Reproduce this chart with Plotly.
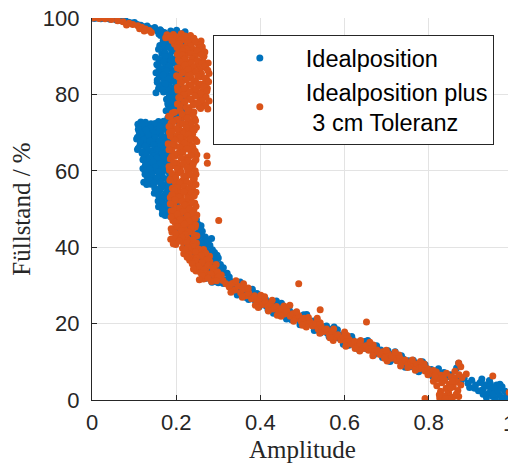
import plotly.graph_objects as go

# ---- data: (Amplitude, Füllstand %) ----
blue_points = [
    # top arc
    (0.005,99.9),(0.012,100),(0.021,99.8),(0.028,100),(0.036,99.9),(0.043,99.7),(0.051,99.8),(0.058,99.5),
    (0.066,99.4),(0.072,99.2),(0.079,99.3),(0.087,98.9),(0.094,98.7),(0.101,98.8),(0.108,98.3),(0.116,98.1),
    (0.123,97.7),(0.131,97.9),(0.137,97.3),(0.144,97.0),(0.149,97.5),(0.156,96.6),(0.162,96.9),
    # 90-97
    (0.201,96.8),(0.165,96.5),(0.221,96.4),(0.186,96.0),(0.159,95.8),(0.208,95.3),(0.177,95.1),(0.226,94.6),
    (0.194,94.5),(0.169,94.0),(0.213,93.7),(0.182,93.5),(0.223,92.9),(0.161,92.8),(0.199,92.3),(0.173,92.0),
    (0.205,91.6),(0.189,91.5),(0.229,90.9),(0.166,90.7),(0.217,90.3),(0.179,90.0),
    (0.187,96.6),(0.172,96.2),(0.213,95.9),(0.196,95.5),(0.163,95.4),(0.219,95.0),(0.184,94.8),(0.205,94.3),
    (0.176,94.1),(0.228,93.9),(0.191,93.2),(0.168,93.0),(0.210,92.6),(0.183,92.4),(0.226,92.2),(0.158,91.8),
    (0.196,91.3),(0.214,91.1),(0.174,90.8),(0.203,90.4),(0.185,90.2),
    # 80-90
    (0.151,89.7),(0.198,89.4),(0.182,89.0),(0.164,88.8),(0.210,88.3),(0.190,88.1),(0.175,87.6),(0.157,87.5),
    (0.206,87.0),(0.186,86.6),(0.168,86.5),(0.195,86.0),(0.152,85.7),(0.202,85.5),(0.178,85.1),(0.213,84.8),
    (0.160,84.6),(0.192,84.2),(0.171,83.9),(0.209,83.6),(0.155,83.2),(0.184,83.0),(0.166,82.5),(0.201,82.3),
    (0.179,81.9),(0.158,81.5),(0.212,81.3),(0.189,80.8),(0.170,80.6),(0.205,80.2),
    (0.173,89.9),(0.204,89.6),(0.159,89.2),(0.188,88.9),(0.170,88.5),(0.200,88.0),(0.154,87.8),(0.183,87.3),
    (0.213,87.2),(0.164,86.8),(0.198,86.3),(0.177,86.2),(0.158,85.9),(0.191,85.3),(0.169,85.0),(0.205,84.4),
    (0.181,84.0),(0.155,83.8),(0.197,83.3),(0.174,82.8),(0.160,82.0),(0.193,81.7),(0.209,81.9),(0.168,81.2),
    (0.182,80.9),(0.152,80.4),(0.196,80.5),
    # 73-80
    (0.184,79.8),(0.209,79.4),(0.197,79.0),(0.177,78.7),(0.216,78.3),(0.191,77.9),(0.203,77.5),(0.181,77.2),
    (0.214,76.8),(0.193,76.4),(0.207,76.1),(0.176,75.7),(0.200,75.3),(0.187,75.0),(0.219,74.5),(0.193,74.2),
    (0.180,73.8),(0.211,73.5),(0.198,73.1),
    (0.201,79.6),(0.186,79.2),(0.211,78.8),(0.193,78.1),(0.180,77.6),(0.206,77.1),(0.196,76.6),(0.185,76.0),
    (0.213,75.6),(0.192,75.1),(0.204,74.6),(0.185,74.0),(0.200,73.6),(0.190,73.2),(0.170,73.0),
    # 64-73
    (0.158,72.9),(0.116,72.8),(0.180,72.5),(0.140,72.3),(0.109,72.2),(0.165,71.9),(0.130,71.6),(0.186,71.5),
    (0.149,71.2),(0.120,71.1),(0.170,70.8),(0.136,70.5),(0.182,70.4),(0.112,70.2),(0.154,69.9),(0.125,69.7),
    (0.162,69.6),(0.143,69.3),(0.189,69.0),(0.118,68.9),(0.176,68.7),(0.132,68.4),(0.106,68.3),(0.168,68.0),
    (0.147,67.7),(0.123,67.6),(0.184,67.4),(0.157,67.1),(0.137,66.9),(0.114,66.7),(0.178,66.5),(0.152,66.2),
    (0.128,66.1),(0.164,65.8),(0.108,65.6),(0.173,65.3),(0.142,65.1),(0.187,64.9),(0.119,64.6),(0.159,64.3),
    (0.127,72.7),(0.171,72.6),(0.150,72.4),(0.119,72.0),(0.161,71.7),(0.139,71.3),(0.110,70.9),(0.176,70.9),
    (0.128,70.7),(0.159,70.3),(0.145,70.0),(0.114,69.8),(0.181,69.7),(0.134,69.4),(0.167,69.1),(0.108,68.8),
    (0.150,68.6),(0.123,68.1),(0.185,68.1),(0.160,67.9),(0.138,67.8),(0.115,67.3),(0.171,67.2),(0.146,66.8),
    (0.126,66.4),(0.163,66.4),(0.188,66.0),(0.110,65.9),(0.154,65.5),(0.133,65.4),(0.179,65.2),(0.120,64.9),
    (0.166,64.5),(0.145,64.5),(0.129,64.2),
    # 56-64
    (0.146,63.9),(0.179,63.6),(0.124,63.5),(0.161,63.2),(0.135,62.9),(0.184,62.8),(0.152,62.5),(0.129,62.2),
    (0.170,62.0),(0.141,61.8),(0.189,61.5),(0.156,61.3),(0.132,61.0),(0.166,60.8),(0.121,60.6),(0.175,60.3),
    (0.148,60.0),(0.182,59.8),(0.138,59.6),(0.164,59.3),(0.126,59.1),(0.159,58.8),(0.186,58.6),(0.143,58.3),
    (0.169,58.0),(0.133,57.8),(0.153,57.5),(0.180,57.3),(0.123,57.0),(0.163,56.7),(0.140,56.5),(0.173,56.2),
    (0.168,63.8),(0.137,63.4),(0.154,63.3),(0.121,62.9),(0.176,62.6),(0.145,62.3),(0.162,61.9),(0.127,61.6),
    (0.182,61.2),(0.150,60.9),(0.137,60.5),(0.171,60.1),(0.126,59.9),(0.158,59.7),(0.184,59.4),(0.142,59.0),
    (0.167,58.7),(0.131,58.5),(0.154,58.2),(0.179,57.9),(0.137,57.6),(0.162,57.1),(0.147,56.8),(0.130,56.4),
    (0.186,56.4),
    # 48-56
    (0.168,55.8),(0.149,55.5),(0.189,55.1),(0.161,54.8),(0.197,54.5),(0.148,54.1),(0.184,53.8),(0.171,53.4),
    (0.160,53.1),(0.192,52.8),(0.183,52.4),(0.157,52.1),(0.203,51.7),(0.174,51.4),(0.190,51.1),(0.166,50.7),
    (0.202,50.4),(0.185,50.0),(0.175,49.7),(0.215,49.4),(0.192,49.0),(0.167,48.7),(0.203,48.4),(0.186,48.1),
    (0.180,55.6),(0.160,55.2),(0.152,54.9),(0.176,54.3),(0.191,54.0),(0.158,53.6),(0.180,53.2),(0.168,52.7),
    (0.196,52.5),(0.164,51.8),(0.185,51.5),(0.172,50.9),(0.158,50.6),(0.195,50.1),(0.167,49.8),(0.205,49.6),
    (0.180,49.2),(0.196,48.6),(0.174,48.3),
    # 40-48
    (0.231,47.8),(0.205,47.5),(0.248,47.2),(0.221,46.8),(0.200,46.5),(0.242,46.2),(0.218,45.9),(0.259,45.6),
    (0.236,45.2),(0.212,44.9),(0.254,44.6),(0.229,44.3),(0.209,44.0),(0.250,43.6),(0.240,43.3),(0.227,43.0),
    (0.269,42.7),(0.251,42.4),(0.223,42.0),(0.265,41.7),(0.240,41.4),(0.272,41.1),(0.250,40.8),(0.234,40.4),
    (0.267,40.2),(0.243,39.9),(0.284,42.3),(0.291,38.6),
    (0.217,47.9),(0.238,47.3),(0.201,46.9),(0.230,46.6),(0.252,46.0),(0.210,45.8),(0.243,45.3),(0.225,45.0),
    (0.203,44.5),(0.262,44.2),(0.237,43.8),(0.217,43.4),(0.256,43.1),(0.233,42.8),(0.210,42.5),(0.246,42.1),
    (0.276,41.9),(0.228,41.5),(0.258,41.0),(0.238,40.6),(0.219,40.3),(0.280,40.5),
    # 30-40
    (0.257,39.6),(0.286,39.3),(0.239,38.9),(0.273,38.6),(0.253,38.3),(0.297,37.9),(0.270,37.6),(0.244,37.2),
    (0.289,36.9),(0.266,36.6),(0.281,36.2),(0.256,35.9),(0.305,35.5),(0.264,35.2),(0.294,34.9),(0.254,34.5),
    (0.305,34.2),(0.285,33.8),(0.277,33.5),(0.321,33.2),(0.268,32.8),(0.307,32.5),(0.298,32.1),(0.269,31.8),
    (0.319,31.5),(0.293,31.1),(0.285,30.8),(0.312,30.5),
    (0.246,39.8),(0.270,39.4),(0.233,39.1),(0.262,38.5),(0.283,38.1),(0.246,37.8),(0.263,37.3),(0.300,37.2),
    (0.252,36.8),(0.276,36.4),(0.294,36.0),(0.247,35.6),(0.283,35.3),(0.265,34.8),(0.312,34.6),(0.277,34.3),
    (0.261,33.9),(0.297,33.6),(0.310,33.3),(0.276,32.9),(0.292,32.3),(0.326,32.2),(0.280,31.9),(0.305,31.6),
    (0.330,31.0),(0.300,30.7),
    # lower curve
    (0.334,29.8),(0.341,30.6),(0.348,28.9),(0.356,29.7),(0.362,27.9),(0.369,28.7),(0.377,27.1),(0.383,27.8),
    (0.388,26.0),(0.394,26.8),(0.402,25.2),(0.407,26.2),(0.413,24.7),(0.421,25.4),(0.428,24.0),(0.434,25.0),
    (0.441,23.4),(0.447,24.4),(0.453,22.9),(0.459,23.7),(0.466,22.3),(0.472,23.0),(0.479,21.6),(0.486,22.5),
    (0.492,21.0),(0.498,21.8),(0.506,20.4),(0.512,21.2),(0.519,19.8),(0.526,20.7),(0.532,19.1),(0.538,19.8),
    (0.546,18.4),(0.552,19.2),(0.558,17.6),(0.566,18.5),(0.572,17.0),(0.579,17.7),(0.586,16.2),(0.593,17.0),
    (0.598,15.5),(0.606,16.3),(0.612,15.0),(0.619,15.8),(0.626,14.5),(0.633,15.2),(0.639,14.0),(0.646,14.8),
    (0.652,13.4),(0.659,14.1),(0.666,12.9),(0.672,13.6),(0.679,12.4),(0.686,13.1),(0.692,11.8),(0.699,12.4),
    (0.706,11.2),(0.712,11.9),(0.719,10.7),(0.726,11.4),(0.732,10.2),(0.739,10.8),(0.746,9.7),(0.752,10.3),
    (0.759,9.1),(0.766,9.8),(0.772,8.6),(0.779,9.1),(0.786,8.0),(0.792,8.6),(0.799,7.5),(0.806,8.0),
    (0.813,7.0),(0.821,7.5),(0.828,6.6),(0.836,7.2),(0.843,6.1),(0.851,6.6),(0.858,5.8),(0.866,5.3),
    (0.352,30.9),(0.381,29.0),(0.412,26.4),(0.438,25.9),(0.468,24.2),(0.503,22.3),(0.531,20.6),(0.557,19.4),
    (0.583,18.4),(0.617,16.6),(0.648,15.3),(0.676,14.2),(0.703,12.9),(0.735,11.6),(0.763,10.4),(0.791,9.3),
    (0.823,8.2),
    (0.366,26.8),(0.397,24.4),(0.431,22.7),(0.462,21.2),(0.494,19.7),(0.528,18.2),(0.563,16.6),(0.597,14.6),
    (0.634,13.2),(0.669,11.8),(0.708,10.1),(0.744,8.6),(0.776,7.4),(0.809,6.2),
    (0.345,27.5),(0.372,26.3),(0.392,27.9),(0.418,23.6),(0.450,25.3),(0.474,21.0),(0.510,22.4),(0.543,17.6),
    (0.575,19.1),(0.610,14.3),(0.655,15.6),(0.690,11.1),(0.720,12.6),(0.755,8.7),(0.785,10.0),
    (0.871,9.6),(0.866,8.4),
    # cluster near empty
    (0.876,4.9),(0.884,5.7),(0.893,4.4),(0.902,5.2),(0.911,3.9),(0.897,3.3),(0.922,4.6),(0.928,2.7),
    (0.936,3.6),(0.941,1.7),(0.947,2.9),(0.952,0.9),(0.958,2.1),(0.961,3.9),(0.968,1.3),(0.972,3.0),
    (0.978,0.5),(0.981,2.3),(0.946,4.3),(0.958,0.3),(0.937,0.6),(0.929,1.5),(0.918,2.4),(0.969,4.1),
    (0.953,1.6),(0.963,2.6),(0.974,3.5),(0.985,1.4),(0.909,3.1),(0.944,5.1),(0.932,4.0),(0.955,3.3),
    (0.973,0.2),(0.989,0.6),(0.926,5.5),
]

orange_points = [
    # top arc
    (0.003,100),(0.017,99.9),(0.031,99.8),(0.046,99.6),(0.061,99.3),(0.074,99.0),(0.088,98.6),(0.097,98.3),
    (0.109,98.0),(0.118,97.6),(0.127,97.1),(0.136,96.7),(0.082,98.2),(0.113,97.2),(0.141,96.2),(0.124,96.6),
    # 90-96
    (0.212,95.9),(0.178,95.6),(0.234,95.4),(0.199,95.1),(0.175,94.8),(0.233,94.6),(0.221,94.3),(0.259,94.0),
    (0.204,93.7),(0.239,93.5),(0.196,93.2),(0.253,92.9),(0.224,92.7),(0.262,92.4),(0.217,92.1),(0.240,91.8),
    (0.207,91.6),(0.264,91.3),(0.226,91.0),(0.255,90.8),(0.203,90.5),(0.245,90.2),(0.266,90.0),(0.222,89.7),
    (0.193,95.7),(0.221,95.3),(0.186,94.9),(0.242,94.7),(0.212,94.4),(0.190,94.1),(0.246,93.9),(0.228,93.6),
    (0.208,93.3),(0.258,93.0),(0.234,92.6),(0.202,92.3),(0.255,92.2),(0.225,91.9),(0.249,91.5),(0.215,91.4),
    (0.268,91.1),(0.234,90.7),(0.215,90.3),(0.260,90.4),(0.244,89.9),
    # 76-90
    (0.238,89.4),(0.205,89.1),(0.263,88.8),(0.225,88.5),(0.276,88.2),(0.214,87.9),(0.250,87.6),(0.232,87.3),
    (0.270,87.0),(0.208,86.7),(0.256,86.4),(0.221,86.1),(0.242,85.8),(0.278,85.5),(0.228,85.2),(0.201,84.9),
    (0.259,84.6),(0.235,84.3),(0.272,84.0),(0.217,83.7),(0.246,83.4),(0.210,83.1),(0.266,82.8),(0.230,82.5),
    (0.253,82.2),(0.203,81.9),(0.274,81.6),(0.223,81.3),(0.241,81.0),(0.262,80.7),(0.213,80.4),(0.248,80.1),
    (0.268,79.8),(0.226,79.5),(0.206,79.2),(0.257,78.9),(0.236,78.6),(0.278,78.3),(0.218,78.0),(0.245,77.7),
    (0.265,77.4),(0.209,77.1),(0.254,76.8),(0.231,76.5),(0.275,76.2),
    (0.219,89.2),(0.250,88.9),(0.208,88.6),(0.236,88.3),(0.261,88.0),(0.221,87.7),(0.268,87.4),(0.241,87.1),
    (0.203,86.9),(0.229,86.5),(0.275,86.3),(0.247,85.9),(0.214,85.6),(0.260,85.4),(0.233,85.0),(0.251,84.7),
    (0.207,84.4),(0.269,84.2),(0.224,83.9),(0.242,83.5),(0.277,83.3),(0.212,83.0),(0.256,82.7),(0.236,82.3),
    (0.266,82.0),(0.219,81.7),(0.248,81.4),(0.204,81.1),(0.273,80.9),(0.232,80.6),(0.258,80.2),(0.218,79.9),
    (0.244,79.6),(0.271,79.3),(0.209,79.0),(0.233,78.7),(0.262,78.4),(0.221,78.1),(0.250,77.8),(0.203,77.5),
    (0.240,77.2),(0.270,77.0),(0.224,76.6),(0.258,76.3),
    # 56-76
    (0.209,75.8),(0.242,75.4),(0.191,75.1),(0.227,74.7),(0.182,74.3),(0.218,74.0),(0.244,73.6),(0.200,73.3),
    (0.233,72.9),(0.188,72.5),(0.222,72.2),(0.207,71.8),(0.248,71.4),(0.195,71.1),(0.230,70.7),(0.213,70.4),
    (0.184,70.0),(0.239,69.6),(0.203,69.3),(0.221,68.9),(0.193,68.5),(0.245,68.2),(0.212,67.8),(0.230,67.5),
    (0.181,67.1),(0.224,66.7),(0.199,66.4),(0.240,66.0),(0.215,65.6),(0.189,65.3),(0.235,64.9),(0.205,64.6),
    (0.249,64.2),(0.197,63.8),(0.226,63.5),(0.186,63.1),(0.219,62.7),(0.243,62.4),(0.202,62.0),(0.232,61.7),
    (0.192,61.3),(0.210,60.9),(0.237,60.6),(0.184,60.2),(0.228,59.8),(0.205,59.5),(0.247,59.1),(0.195,58.8),
    (0.223,58.4),(0.187,58.0),(0.241,57.7),(0.214,57.3),(0.198,56.9),(0.234,56.6),(0.207,56.2),
    (0.229,75.6),(0.196,75.3),(0.214,74.9),(0.240,74.5),(0.186,74.2),(0.226,73.8),(0.205,73.4),(0.246,73.1),
    (0.192,72.7),(0.215,72.4),(0.236,72.0),(0.183,71.6),(0.224,71.3),(0.201,70.9),(0.243,70.6),(0.190,70.2),
    (0.218,69.8),(0.229,69.5),(0.186,69.1),(0.210,68.7),(0.234,68.4),(0.197,68.0),(0.249,67.7),(0.219,67.3),
    (0.190,66.9),(0.238,66.6),(0.208,66.2),(0.226,65.8),(0.183,65.5),(0.245,65.1),(0.216,64.8),(0.196,64.4),
    (0.235,64.0),(0.189,63.7),(0.212,63.3),(0.247,62.9),(0.228,62.6),(0.194,62.2),(0.217,61.9),(0.240,61.5),
    (0.183,61.1),(0.226,60.8),(0.203,60.4),(0.245,60.0),(0.212,59.7),(0.190,59.3),(0.233,58.9),(0.218,58.6),
    (0.199,58.2),(0.243,57.9),(0.185,57.5),(0.225,57.1),(0.208,56.8),(0.247,56.4),
    (0.273,63.9),(0.274,62.0),
    # 40-56
    (0.219,55.8),(0.191,55.4),(0.239,55.1),(0.207,54.7),(0.247,54.4),(0.197,54.0),(0.227,53.7),(0.212,53.3),
    (0.186,53.0),(0.235,52.6),(0.203,52.3),(0.223,51.9),(0.244,51.6),(0.194,51.2),(0.231,50.9),(0.216,50.5),
    (0.201,50.2),(0.242,49.8),(0.188,49.5),(0.225,49.1),(0.210,48.8),(0.249,48.4),(0.198,48.1),(0.232,47.7),
    (0.218,47.4),(0.192,47.0),(0.240,46.7),(0.205,46.3),(0.229,46.0),(0.214,45.6),(0.245,45.3),(0.195,44.9),
    (0.221,44.6),(0.236,44.2),(0.190,43.9),(0.208,43.5),(0.243,43.2),(0.202,42.8),(0.225,42.5),(0.187,42.1),
    (0.234,41.8),(0.215,41.4),(0.248,41.1),(0.199,40.7),(0.229,40.4),
    (0.202,55.6),(0.229,55.3),(0.195,54.9),(0.218,54.5),(0.236,54.2),(0.190,53.8),(0.243,53.5),(0.206,53.1),
    (0.227,52.8),(0.197,52.4),(0.214,52.0),(0.238,51.7),(0.186,51.4),(0.221,51.0),(0.247,50.7),(0.208,50.3),
    (0.231,50.0),(0.193,49.6),(0.216,49.3),(0.239,48.9),(0.203,48.6),(0.226,48.2),(0.188,47.9),(0.245,47.5),
    (0.209,47.2),(0.230,46.8),(0.197,46.5),(0.219,46.1),(0.246,45.8),(0.203,45.4),(0.236,45.1),(0.188,44.8),
    (0.212,44.4),(0.230,44.0),(0.198,43.7),(0.222,43.3),(0.249,43.0),(0.213,42.6),(0.195,42.3),(0.240,41.9),
    (0.207,41.6),(0.226,41.2),(0.193,40.9),(0.239,40.6),
    (0.301,47.0),
    # 31-40
    (0.242,40.1),(0.215,39.7),(0.265,39.4),(0.235,39.0),(0.259,38.7),(0.218,38.3),(0.249,38.0),(0.279,37.6),
    (0.237,37.3),(0.265,36.9),(0.232,36.6),(0.280,36.2),(0.257,35.9),(0.295,35.5),(0.246,35.2),(0.272,34.8),
    (0.259,34.5),(0.289,34.1),(0.247,33.8),(0.288,33.4),(0.275,33.1),(0.307,32.7),(0.269,32.4),(0.292,32.0),
    (0.265,31.7),(0.311,31.3),(0.284,31.0),
    (0.228,39.9),(0.253,39.5),(0.222,39.2),(0.246,38.8),(0.270,38.5),(0.230,38.1),(0.260,37.8),(0.226,37.4),
    (0.248,37.1),(0.273,36.7),(0.245,36.4),(0.262,36.0),(0.238,35.7),(0.276,35.3),(0.253,35.0),(0.287,34.6),
    (0.241,34.3),(0.266,34.0),(0.298,33.6),(0.258,33.3),(0.282,32.9),(0.262,32.6),(0.300,32.2),(0.276,31.9),
    (0.255,31.5),(0.296,31.2),
    # lower curve
    (0.318,30.4),(0.326,29.6),(0.333,30.5),(0.339,28.8),(0.347,29.8),(0.353,28.1),(0.359,29.0),(0.366,27.3),
    (0.372,28.1),(0.379,26.5),(0.386,27.3),(0.392,25.8),(0.398,26.5),(0.405,25.0),(0.412,25.8),(0.418,24.4),
    (0.424,25.1),(0.431,23.8),(0.438,24.5),(0.444,23.1),(0.451,23.9),(0.457,22.5),(0.463,23.3),(0.471,21.9),
    (0.477,22.6),(0.483,21.3),(0.491,22.1),(0.497,20.6),(0.504,21.4),(0.511,20.0),(0.517,20.7),(0.524,19.4),
    (0.531,20.1),(0.537,18.6),(0.544,19.4),(0.551,17.9),(0.557,18.6),(0.564,17.1),(0.571,17.9),(0.577,16.4),
    (0.584,17.1),(0.591,15.7),(0.597,16.4),(0.604,15.1),(0.611,15.8),(0.617,14.6),(0.624,15.3),(0.631,14.1),
    (0.637,14.7),(0.644,13.5),(0.651,14.2),(0.657,13.0),(0.664,13.7),(0.671,12.5),(0.677,13.1),(0.684,11.9),
    (0.691,12.6),(0.697,11.4),(0.704,12.1),(0.711,10.9),(0.717,11.5),(0.724,10.3),(0.731,11.0),(0.737,9.8),
    (0.744,10.5),(0.751,9.3),(0.757,9.9),(0.764,8.8),(0.771,9.4),(0.777,8.2),(0.784,8.9),(0.791,7.6),
    (0.797,8.2),(0.804,7.1),(0.811,7.7),
    (0.342,31.2),(0.371,29.3),(0.401,27.4),(0.428,26.1),(0.456,24.6),(0.486,23.1),(0.514,21.6),(0.542,20.2),
    (0.574,18.6),(0.606,16.9),(0.638,15.6),(0.668,14.4),(0.699,13.0),(0.729,11.8),(0.761,10.5),(0.789,9.4),
    (0.357,26.9),(0.388,24.8),(0.419,23.3),(0.449,21.9),(0.479,20.6),(0.509,19.1),(0.541,17.5),(0.573,15.6),
    (0.603,14.1),(0.636,12.8),(0.667,11.6),(0.701,10.2),(0.733,8.9),(0.768,7.8),(0.798,6.6),
    (0.330,28.2),(0.360,30.4),(0.395,24.2),(0.410,27.0),(0.440,22.2),(0.470,24.8),(0.500,19.6),(0.535,21.4),
    (0.565,16.3),(0.600,17.8),(0.625,13.5),(0.660,15.1),(0.695,10.9),(0.720,12.5),(0.750,8.5),(0.780,10.1),
    # outliers
    (0.491,30.4),(0.542,23.6),(0.652,20.4),
    # cluster near empty
    (0.818,7.3),(0.829,6.5),(0.842,7.0),(0.853,6.1),(0.822,5.5),(0.838,5.1),(0.861,5.7),(0.831,4.5),
    (0.849,4.1),(0.867,4.7),(0.819,3.7),(0.841,3.1),(0.858,3.5),(0.876,3.9),(0.828,2.3),(0.847,1.9),
    (0.869,2.5),(0.836,1.1),(0.857,0.7),(0.848,0.2),(0.826,0.5),(0.871,0.9),(0.811,4.9),(0.862,7.5),
    (0.879,5.9),(0.791,0.4),(0.876,8.7),(0.871,9.7),(0.952,6.3),(0.991,2.0),(0.889,6.8),(0.844,2.7),
    (0.856,4.9),(0.834,5.9),(0.865,1.5),(0.814,6.3),(0.852,3.2),(0.839,0.3),(0.872,6.6),(0.825,1.4),
]

series_names = ["Idealposition", "Idealposition plus<br> 3 cm Toleranz"]
series_colors = ["#0072BD", "#D95319"]
x_ticks = [0, 0.2, 0.4, 0.6, 0.8, 1]
x_tick_labels = ["0", "0.2", "0.4", "0.6", "0.8", ""]   # the last label ("1") is drawn below
x_last_label = "1"
y_ticks = [0, 20, 40, 60, 80, 100]
y_tick_labels = ["0", "20", "40", "60", "80", "100"]

tick_font = dict(family="Liberation Sans, Arial", size=22, color="#262626")

fig = go.Figure()
for pts, name, col in zip([blue_points, orange_points], series_names, series_colors):
    fig.add_trace(go.Scatter(
        x=[p[0] for p in pts], y=[p[1] for p in pts], mode="markers", name=name,
        marker=dict(color=col, size=7, line=dict(width=0)),
    ))

axis_common = dict(
    showgrid=True, gridcolor="#e3e3e3", gridwidth=1,
    showline=True, linecolor="#262626", linewidth=1.3,
    ticks="inside", ticklen=5, tickcolor="#262626", tickwidth=1,
    tickfont=tick_font,
    zeroline=False, mirror=False, automargin=False, ticklabeloverflow="allow",
)
fig.update_xaxes(range=[0, 1], tickvals=x_ticks, ticktext=x_tick_labels,
                 ticklabelstandoff=2,
                 title=dict(text="Amplitude", font=dict(family="Liberation Serif", size=25, color="#262626"),
                            standoff=8),
                 **axis_common)
fig.update_yaxes(range=[0, 100], tickvals=y_ticks, ticktext=y_tick_labels,
                 ticklabelstandoff=7,
                 title=dict(text="Füllstand / %", font=dict(family="Liberation Serif", size=25, color="#262626"),
                            standoff=7),
                 **axis_common)

# right-most x tick label, kept inside the page edge
fig.add_annotation(x=x_ticks[-1], xref="x", y=0, yref="paper", text=x_last_label,
                   showarrow=False, xanchor="right", yanchor="middle", xshift=4, yshift=-23,
                   font=tick_font)

# the page adds an 8 px body margin, so the figure is 8 px smaller and margins compensate
fig.update_layout(
    width=508, height=455,
    margin=dict(l=84, r=3, t=10, b=63),
    paper_bgcolor="white", plot_bgcolor="white",
    showlegend=True,
    legend=dict(
        x=0.287, y=0.955, xanchor="left", yanchor="top",
        bgcolor="white", bordercolor="#262626", borderwidth=1,
        font=dict(family="Liberation Sans, Arial", size=23.5, color="#000000"),
        itemwidth=82, tracegroupgap=4,
    ),
)

fig.write_html("out.html")
